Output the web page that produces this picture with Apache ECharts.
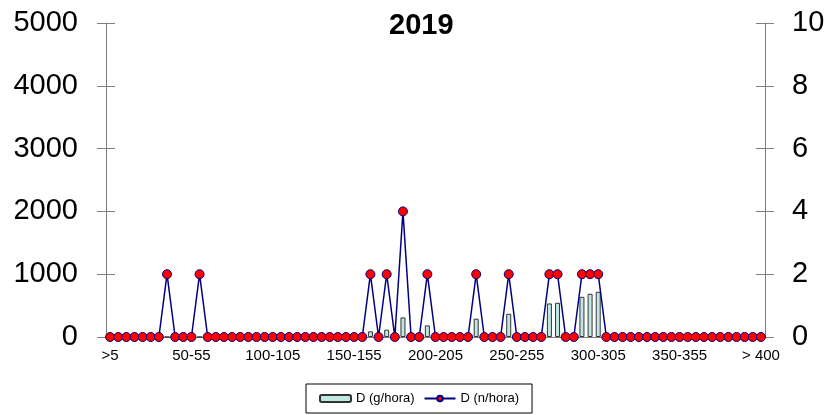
<!DOCTYPE html>
<html>
<head>
<meta charset="utf-8">
<script src="https://cdn.jsdelivr.net/npm/echarts@6/dist/echarts.min.js"></script>
<style>
  html, body { margin: 0; padding: 0; background: #fff; }
  #chart { width: 829px; height: 415px; }
</style>
</head>
<body>
<div id="chart"></div>
<script>
// clases de tamaño: ">5", "5-10", ..., "395-400", "> 400"
var categories = ['>5'];
for (var i = 5; i < 400; i += 5) {
    categories.push(i + '-' + (i + 5));
}
categories.push('> 400');

// D (g/hora) - eje izquierdo
var gHora = [
    0, 0, 0, 0, 0, 0, 0, 0, 0, 0,
    0, 0, 0, 0, 0, 0, 0, 0, 0, 0,
    0, 0, 0, 0, 0, 0, 0, 0, 0, 0,
    0, 0, 90, 0, 116, 0, 312, 0, 0, 185,
    0, 0, 0, 0, 0, 291, 0, 0, 0, 370,
    0, 0, 0, 0, 534, 545, 0, 0, 640, 688,
    720, 0, 0, 0, 0, 0, 0, 0, 0, 0,
    0, 0, 0, 0, 0, 0, 0, 0, 0, 0,
    0
];

// D (n/hora) - eje derecho
var nHora = [
    0, 0, 0, 0, 0, 0, 0, 2, 0, 0,
    0, 2, 0, 0, 0, 0, 0, 0, 0, 0,
    0, 0, 0, 0, 0, 0, 0, 0, 0, 0,
    0, 0, 2, 0, 2, 0, 4, 0, 0, 2,
    0, 0, 0, 0, 0, 2, 0, 0, 0, 2,
    0, 0, 0, 0, 2, 2, 0, 0, 2, 2,
    2, 0, 0, 0, 0, 0, 0, 0, 0, 0,
    0, 0, 0, 0, 0, 0, 0, 0, 0, 0,
    0
];

var myChart = echarts.init(document.getElementById('chart'));

var font = 'Liberation Sans, Arial, sans-serif';
var axisGray = '#808080';
var plain = function (v) { return String(v); };

var option = {
    animation: false,
    backgroundColor: '#fff',
    textStyle: { fontFamily: font },
    title: {
        text: '2019',
        left: 384,
        top: 6,
        textStyle: { fontSize: 29, fontWeight: 'bold', color: '#000', fontFamily: font }
    },
    legend: {
        bottom: 2,
        left: 306,
        padding: [8, 13],
        itemGap: 9,
        itemWidth: 31,
        itemHeight: 7,
        borderColor: '#000',
        borderWidth: 1,
        borderRadius: 0,
        textStyle: { fontSize: 13, color: '#000', fontFamily: font },
        data: ['D (g/hora)', 'D (n/hora)']
    },
    grid: {
        left: 106,
        right: 64,
        top: 23,
        bottom: 78
    },
    xAxis: {
        type: 'category',
        data: categories,
        boundaryGap: true,
        axisLine: { lineStyle: { color: axisGray, width: 1 } },
        axisTick: { interval: 0, length: 4, lineStyle: { color: axisGray } },
        axisLabel: {
            interval: 9,
            margin: 11,
            fontSize: 15,
            color: '#000',
            fontFamily: font
        }
    },
    yAxis: [
        {
            type: 'value',
            position: 'left',
            min: 0, max: 5000, interval: 1000,
            splitLine: { show: false },
            axisLine: { show: true, lineStyle: { color: axisGray } },
            axisTick: { show: true, length: 9, lineStyle: { color: axisGray } },
            axisLabel: { margin: 28, fontSize: 29, color: '#000', fontFamily: font, formatter: plain }
        },
        {
            type: 'value',
            position: 'right',
            min: 0, max: 10, interval: 2,
            splitLine: { show: false },
            axisLine: { show: true, lineStyle: { color: axisGray } },
            axisTick: { show: true, length: 9, lineStyle: { color: axisGray } },
            axisLabel: { margin: 27, fontSize: 29, color: '#000', fontFamily: font, formatter: plain }
        },
        {
            // marcas interiores del eje izquierdo
            type: 'value',
            position: 'left',
            min: 0, max: 5000, interval: 1000,
            splitLine: { show: false },
            axisLine: { show: false },
            axisTick: { show: true, inside: true, length: 9, lineStyle: { color: axisGray } },
            axisLabel: { show: false }
        },
        {
            // marcas interiores del eje derecho
            type: 'value',
            position: 'right',
            min: 0, max: 10, interval: 2,
            splitLine: { show: false },
            axisLine: { show: false },
            axisTick: { show: true, inside: true, length: 9, lineStyle: { color: axisGray } },
            axisLabel: { show: false }
        }
    ],
    series: [
        {
            name: 'D (g/hora)',
            type: 'bar',
            yAxisIndex: 0,
            barWidth: 5,
            itemStyle: { color: '#bfe8e4', borderColor: '#333', borderWidth: 1 },
            data: gHora
        },
        {
            name: 'D (n/hora)',
            type: 'line',
            yAxisIndex: 1,
            symbol: 'circle',
            symbolSize: 9,
            showAllSymbol: true,
            lineStyle: { color: '#000080', width: 1.5 },
            itemStyle: { color: '#ff0000', borderColor: '#000080', borderWidth: 1 },
            data: nHora
        }
    ]
};

myChart.setOption(option);
</script>
</body>
</html>
